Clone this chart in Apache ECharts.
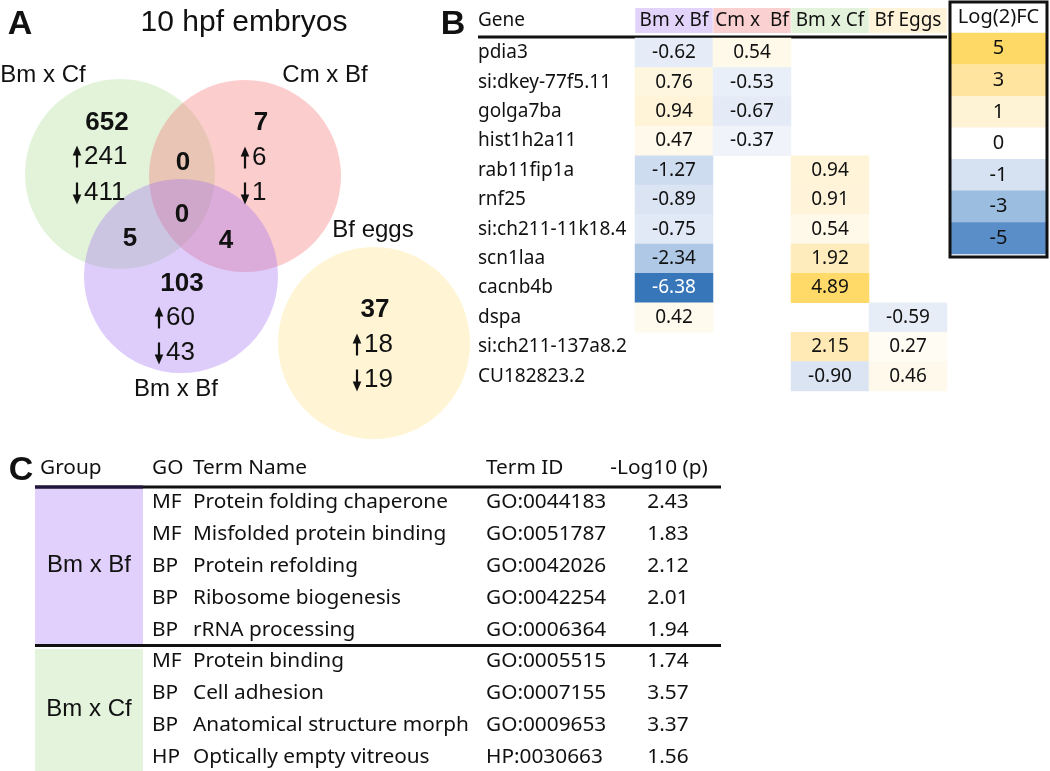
<!DOCTYPE html>
<html><head><meta charset="utf-8">
<script src="https://cdn.jsdelivr.net/npm/echarts@6/dist/echarts.min.js"></script>
<style>html,body{margin:0;padding:0;background:#fff}#c{width:1050px;height:771px}</style>
</head><body><div id="c"></div>
<script>
// ---------------- DATA ----------------
// Panel A: Venn counts (10 hpf embryos)
const vennSets = ['Bm x Cf', 'Cm x Bf', 'Bm x Bf', 'Bf eggs'];
const vennUniqueTotal = [652, 7, 103, 37];
const vennUniqueUp = [241, 6, 60, 18];
const vennUniqueDown = [411, 1, 43, 19];
const vennOverlapNames = ['Bm x Cf & Cm x Bf', 'all three', 'Bm x Cf & Bm x Bf', 'Cm x Bf & Bm x Bf'];
const vennOverlapCounts = [0, 0, 5, 4];

// Panel B: log2 fold change table
const genes = ['pdia3', 'si:dkey-77f5.11', 'golga7ba', 'hist1h2a11', 'rab11fip1a', 'rnf25',
  'si:ch211-11k18.4', 'scn1laa', 'cacnb4b', 'dspa', 'si:ch211-137a8.2', 'CU182823.2'];
const comparisons = ['Bm x Bf', 'Cm x  Bf', 'Bm x Cf', 'Bf Eggs'];
const fcBmBf   = [-0.62, 0.76, 0.94, 0.47, -1.27, -0.89, -0.75, -2.34, -6.38, 0.42, null, null];
const fcCmBf   = [0.54, -0.53, -0.67, -0.37, null, null, null, null, null, null, null, null];
const fcBmCf   = [null, null, null, null, 0.94, 0.91, 0.54, 1.92, 4.89, null, 2.15, -0.90];
const fcBfEggs = [null, null, null, null, null, null, null, null, null, -0.59, 0.27, 0.46];
const legendTitle = 'Log(2)FC';
const legendSteps = [5, 3, 1, 0, -1, -3, -5];

// Panel C: GO enrichment table
const goHeaders = ['Group', 'GO', 'Term Name', 'Term ID', '-Log10 (p)'];
const goGroups = ['Bm x Bf', 'Bm x Cf'];
const goGroupIndex = [0, 0, 0, 0, 0, 1, 1, 1, 1];
const goType = ['MF', 'MF', 'BP', 'BP', 'BP', 'MF', 'BP', 'BP', 'HP'];
const goTerm = ['Protein folding chaperone', 'Misfolded protein binding', 'Protein refolding',
  'Ribosome biogenesis', 'rRNA processing', 'Protein binding', 'Cell adhesion',
  'Anatomical structure morph', 'Optically empty vitreous'];
const goId = ['GO:0044183', 'GO:0051787', 'GO:0042026', 'GO:0042254', 'GO:0006364',
  'GO:0005515', 'GO:0007155', 'GO:0009653', 'HP:0030663'];
const goLogP = [2.43, 1.83, 2.12, 2.01, 1.94, 1.74, 3.57, 3.37, 1.56];

// ---------------- LAYOUT / STYLE ----------------
const SANS = '"Liberation Sans", Arial, sans-serif';
const CAL = '"Noto Sans", sans-serif';
const BLACK = '#111';

const vennLayout = {
  circles: [
    { cx: 120, cy: 174, r: 95, fill: 'rgba(175,221,149,0.35)' },
    { cx: 245, cy: 176, r: 96, fill: 'rgba(244,112,112,0.35)' },
    { cx: 181, cy: 276, r: 97, fill: 'rgba(161,112,241,0.35)' },
    { cx: 374, cy: 343, r: 96, fill: '#FFF5D4' }
  ],
  setLabels: [[43, 75], [325, 75], [176, 389], [373, 230]],
  totals: [[107, 123], [261, 123], [182, 284], [375, 310]],
  arrowX: [77, 245, 159, 357],
  upY: [157, 158, 318, 345],
  downY: [193, 193, 353, 380],
  overlaps: [[183, 163], [182, 215], [130, 239], [226, 241]]
};
const headerFills = ['#E2D3FA', '#FBD0D0', '#E3F2DA', '#FFF4D9'];
const groupFills = ['#E1D0FB', '#E4F3DC'];

const tableB = { left: 635, top: 38, width: 312, height: 353, geneX: 478, lineY: 37 };
const legendBox = { left: 950, top: 2, width: 97, height: 255, cellsTop: 33 };
const tableC = {
  left: 35, groupRight: 143, right: 721, headerY: 468, lineY: 487, firstRowY: 502, rowH: 31.9,
  cols: { type: 152, term: 193, id: 486, p: 668 }
};
const CFONT = '20.8px ' + CAL;

// ---------------- BUILD ----------------
function txt(x, y, text, font, align, extra) {
  return Object.assign({
    type: 'text', silent: true,
    style: {
      text: String(text), x: x, y: y, font: font, fill: BLACK,
      align: align || 'center', verticalAlign: 'middle',
      textAlign: align || 'center', textVerticalAlign: 'middle'
    }
  }, extra || {});
}
function arrow(cx, cy, up) {
  const s = up ? -1 : 1; // direction of tip
  const tipY = cy + s * 11.5, baseY = cy - s * 10.5, headY = cy + s * 3;
  return [
    { type: 'line', silent: true, shape: { x1: cx, y1: baseY, x2: cx, y2: headY }, style: { stroke: BLACK, lineWidth: 2.2 } },
    { type: 'polygon', silent: true, shape: { points: [[cx, tipY], [cx - 4.3, headY - s * 1.5], [cx + 4.3, headY - s * 1.5]] }, style: { fill: BLACK } }
  ];
}

const graphics = [];
// Panel letters and title
graphics.push(txt(20, 25, 'A', 'bold 34px ' + SANS));
graphics.push(txt(453, 25, 'B', 'bold 34px ' + SANS));
graphics.push(txt(21, 471, 'C', 'bold 34px ' + SANS));
graphics.push(txt(244, 23, '10 hpf embryos', '30px ' + SANS));

// Venn circles
vennLayout.circles.forEach(function (c) {
  graphics.push({ type: 'circle', silent: true, shape: { cx: c.cx, cy: c.cy, r: c.r }, style: { fill: c.fill } });
});
vennSets.forEach(function (s, i) {
  const p = vennLayout.setLabels[i];
  graphics.push(txt(p[0], p[1], s, '24px ' + SANS));
  const t = vennLayout.totals[i], ax = vennLayout.arrowX[i];
  graphics.push(txt(t[0], t[1], vennUniqueTotal[i], 'bold 26px ' + SANS));
  graphics.push(txt(ax + 7, vennLayout.upY[i], vennUniqueUp[i], '26px ' + SANS, 'left'));
  graphics.push(txt(ax + 7, vennLayout.downY[i], vennUniqueDown[i], '26px ' + SANS, 'left'));
  arrow(ax, vennLayout.upY[i], true).forEach(function (g) { graphics.push(g); });
  arrow(ax, vennLayout.downY[i], false).forEach(function (g) { graphics.push(g); });
});
vennOverlapCounts.forEach(function (v, i) {
  const p = vennLayout.overlaps[i];
  graphics.push(txt(p[0], p[1], v, 'bold 26px ' + SANS));
});

// Panel B header
graphics.push(txt(tableB.geneX, 21, 'Gene', '19px ' + CAL, 'left'));
graphics.push({ type: 'line', silent: true, shape: { x1: tableB.geneX, y1: tableB.lineY, x2: tableB.left + tableB.width, y2: tableB.lineY }, style: { stroke: BLACK, lineWidth: 3 } });
// Legend box
graphics.push({ type: 'rect', silent: true, z: 100, shape: { x: legendBox.left, y: legendBox.top, width: legendBox.width, height: legendBox.height }, style: { fill: 'none', stroke: BLACK, lineWidth: 3 } });
graphics.push(txt(legendBox.left + legendBox.width / 2, 17, legendTitle, '20px ' + CAL));

// Panel C
graphics.push({ type: 'rect', silent: true, shape: { x: tableC.left, y: tableC.lineY + 1, width: tableC.groupRight - tableC.left, height: 157 }, style: { fill: groupFills[0] } });
graphics.push({ type: 'rect', silent: true, shape: { x: tableC.left, y: tableC.lineY + 162, width: tableC.groupRight - tableC.left, height: 130 }, style: { fill: groupFills[1] } });
graphics.push({ type: 'line', silent: true, shape: { x1: tableC.left, y1: tableC.lineY, x2: tableC.right, y2: tableC.lineY }, style: { stroke: BLACK, lineWidth: 3 } });
graphics.push({ type: 'line', silent: true, shape: { x1: tableC.left, y1: tableC.lineY, x2: tableC.groupRight, y2: tableC.lineY }, style: { stroke: '#22163f', lineWidth: 3 } });
const sepY = tableC.firstRowY + tableC.rowH * 4.5;
graphics.push({ type: 'line', silent: true, shape: { x1: tableC.left, y1: sepY, x2: tableC.right, y2: sepY }, style: { stroke: BLACK, lineWidth: 3 } });

graphics.push(txt(40, tableC.headerY, goHeaders[0], CFONT, 'left'));
graphics.push(txt(tableC.cols.type, tableC.headerY, goHeaders[1], CFONT, 'left'));
graphics.push(txt(tableC.cols.term, tableC.headerY, goHeaders[2], CFONT, 'left'));
graphics.push(txt(tableC.cols.id, tableC.headerY, goHeaders[3], CFONT, 'left'));
graphics.push(txt(659, tableC.headerY, goHeaders[4], CFONT));

goType.forEach(function (t, i) {
  const y = tableC.firstRowY + tableC.rowH * i;
  graphics.push(txt(tableC.cols.type, y, t, CFONT, 'left'));
  graphics.push(txt(tableC.cols.term, y, goTerm[i], CFONT, 'left'));
  graphics.push(txt(tableC.cols.id, y, goId[i], CFONT, 'left'));
  graphics.push(txt(tableC.cols.p, y, goLogP[i].toFixed(2), CFONT));
});
goGroups.forEach(function (g, gi) {
  const rows = [];
  goGroupIndex.forEach(function (v, i) { if (v === gi) rows.push(i); });
  const mid = (rows[0] + rows[rows.length - 1]) / 2;
  graphics.push(txt((tableC.left + tableC.groupRight) / 2, tableC.firstRowY + tableC.rowH * mid, g, '24px ' + SANS));
});

// Heatmap data
const columns = [fcBmBf, fcCmBf, fcBmCf, fcBfEggs];
const heatData = [];
columns.forEach(function (col, ci) {
  col.forEach(function (v, ri) {
    if (v === null) return;
    heatData.push({ value: [ci, ri, v], label: { color: v < -5 ? '#fff' : BLACK } });
  });
});
const legendData = legendSteps.map(function (v, i) { return [0, i, v]; });

const rich = {};
comparisons.forEach(function (c, i) {
  rich['h' + i] = { backgroundColor: headerFills[i], width: 77.5, height: 25, align: 'center', verticalAlign: 'middle', fontSize: 19, fontFamily: CAL, color: BLACK, lineHeight: 25 };
});

const chart = echarts.init(document.getElementById('c'), null, { renderer: 'canvas' });
chart.setOption({
  animation: false,
  backgroundColor: '#fff',
  grid: [
    { left: tableB.left, top: tableB.top, width: tableB.width, height: tableB.height },
    { left: legendBox.left + 1, top: legendBox.cellsTop, width: legendBox.width - 2, height: legendBox.height - legendBox.cellsTop - 1 }
  ],
  xAxis: [
    { type: 'category', gridIndex: 0, position: 'top', data: comparisons,
      axisLine: { show: false }, axisTick: { show: false }, splitLine: { show: false },
      axisLabel: { margin: 5, interval: 0, formatter: function (v, i) { return '{h' + i + '|' + v + '}'; }, rich: rich } },
    { type: 'category', gridIndex: 1, data: ['FC'], show: false }
  ],
  yAxis: [
    { type: 'category', gridIndex: 0, inverse: true, data: genes,
      axisLine: { show: false }, axisTick: { show: false }, splitLine: { show: false },
      axisLabel: { align: 'left', margin: tableB.left - tableB.geneX, fontSize: 19, fontFamily: CAL, color: BLACK, interval: 0 } },
    { type: 'category', gridIndex: 1, inverse: true, data: legendSteps.map(String), show: false }
  ],
  visualMap: {
    show: false, type: 'continuous', min: -7, max: 5, dimension: 2, seriesIndex: [0, 1],
    inRange: { color: ['#2A6DB0', '#3F7DBE', '#5A8EC8', '#7CA7D6', '#9BBDE0', '#B8CEE9', '#D6E1F2', '#FFFFFF',
      '#FFF3D6', '#FFEBBA', '#FFE49F', '#FFDE85', '#FFD966'] }
  },
  series: [
    { type: 'heatmap', xAxisIndex: 0, yAxisIndex: 0, data: heatData,
      label: { show: true, fontSize: 19, fontFamily: CAL, formatter: function (p) { return p.value[2].toFixed(2); } },
      emphasis: { disabled: true } },
    { type: 'heatmap', xAxisIndex: 1, yAxisIndex: 1, data: legendData,
      label: { show: true, fontSize: 20, fontFamily: CAL, color: BLACK, formatter: function (p) { return String(p.value[2]); } },
      emphasis: { disabled: true } }
  ],
  graphic: { elements: graphics }
});
</script></body></html>
